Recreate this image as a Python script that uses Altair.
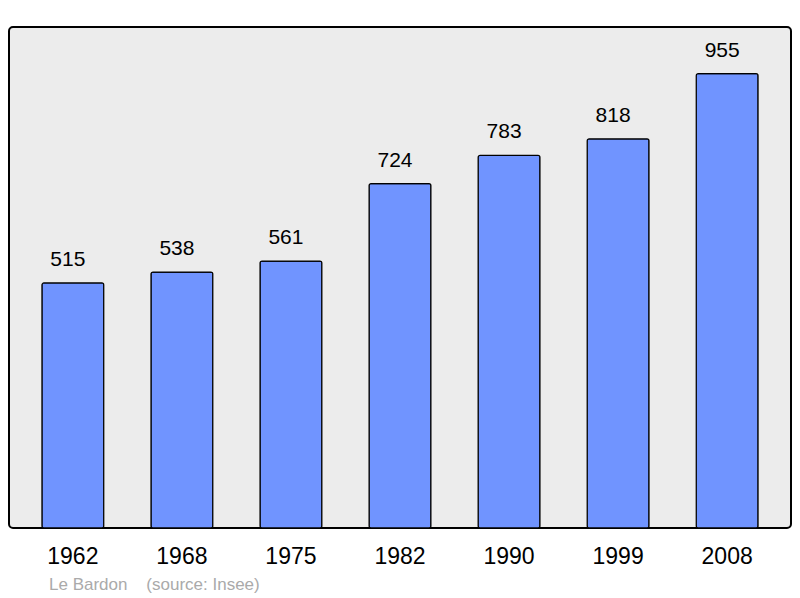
import altair as alt
import pandas as pd

years = ["1962", "1968", "1975", "1982", "1990", "1999", "2008"]
population = [515, 538, 561, 724, 783, 818, 955]
footer_name = "Le Bardon"
footer_source = "(source: Insee)"

df = pd.DataFrame({"year": years, "pop": population})

x = alt.X("year:N", sort=years,
          scale=alt.Scale(paddingInner=0.433, paddingOuter=0.302),
          axis=alt.Axis(title=None, labelAngle=0, labelFontSize=23, labelColor="black",
                        labelFont="Liberation Sans", ticks=False, domain=False,
                        labelPadding=17, grid=False))
y = alt.Y("pop:Q", scale=alt.Scale(domain=[0, 1053], nice=False, zero=True), axis=None)

bars = alt.Chart(df).mark_bar(
    color="#7094FF", stroke="black", strokeWidth=1.2, cornerRadius=2
).encode(x=x, y=y)

labels = alt.Chart(df).mark_text(
    baseline="middle", dy=-23, dx=-5, fontSize=21, font="Liberation Sans", color="black"
).encode(x=alt.X("year:N", sort=years), y="pop:Q", text="pop:Q")

chart = alt.layer(bars, labels).properties(
    width=782, height=501,
    autosize=alt.AutoSizeParams(type="none"),
    padding={"left": 1, "right": 1, "top": 19, "bottom": 72},
    title=alt.TitleParams(
        text=footer_name + "\u00a0\u00a0\u00a0\u00a0" + footer_source,
        orient="bottom", anchor="start", dx=40, offset=9,
        fontSize=17, fontWeight="normal", font="Liberation Sans", color="#AAAAAA"),
).configure_view(
    fill="#ECECEC", stroke="black", strokeWidth=2, cornerRadius=4
)

chart.save("out.html", embed_options={"renderer": "svg", "actions": False})
